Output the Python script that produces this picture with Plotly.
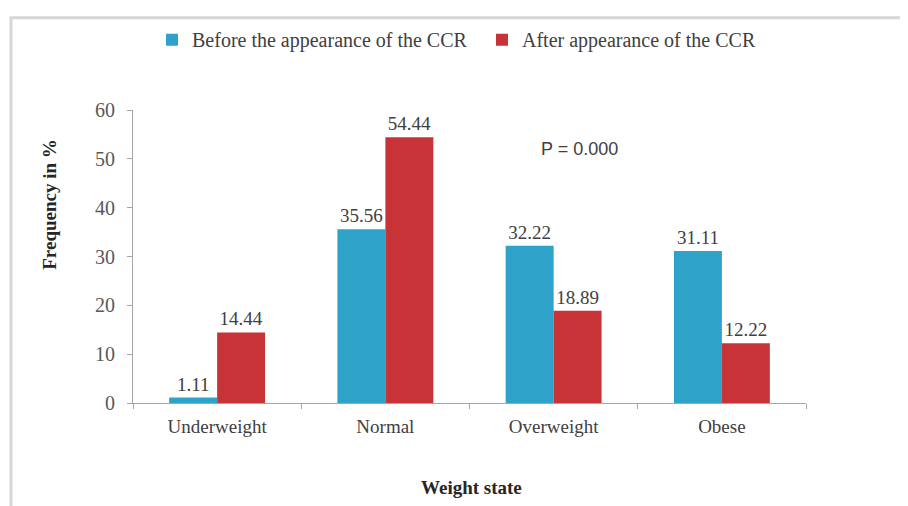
import plotly.graph_objects as go

categories = ["Underweight", "Normal", "Overweight", "Obese"]
before_vals = [1.11, 35.56, 32.22, 31.11]
after_vals = [14.44, 54.44, 18.89, 12.22]
series_names = ["Before the appearance of the CCR", "After appearance of the CCR"]
y_ticks = [0, 10, 20, 30, 40, 50, 60]

# page has an 8px body margin; work in screen px and convert
OFF = 8
W, H = 908, 506
L, T = 133 - OFF, 103 - OFF
pw, ph = 673, 300
R = W - L - pw
B = H - T - ph

def px_x(x):
    return (x - OFF - L) / pw

def px_y(y):
    return (H - B - (y - OFF)) / ph

serif = "Liberation Serif, Times New Roman, serif"
lab_font = dict(family=serif, size=19, color="#404040")

fig = go.Figure()
fig.add_trace(go.Bar(
    x=categories, y=before_vals, name=series_names[0],
    marker=dict(color="#2EA2C8", line=dict(width=0)),
    text=[f"{v:.2f}" for v in before_vals], textposition="outside",
    textfont=lab_font, cliponaxis=False, legend="legend",
))
fig.add_trace(go.Bar(
    x=categories, y=after_vals, name=series_names[1],
    marker=dict(color="#C83337", line=dict(width=0)),
    text=[f"{v:.2f}" for v in after_vals], textposition="outside",
    textfont=lab_font, cliponaxis=False, legend="legend2",
))

leg_common = dict(orientation="h", xanchor="left", yanchor="middle",
                  font=dict(family=serif, size=20, color="#404040"),
                  bgcolor="rgba(0,0,0,0)", itemwidth=30)
fig.update_layout(
    width=W, height=H,
    margin=dict(l=L, r=R, t=T, b=B),
    paper_bgcolor="white", plot_bgcolor="white",
    barmode="group", bargap=0.43, bargroupgap=0,
    font=dict(family=serif, size=19, color="#404040"),
    legend=dict(x=px_x(152), y=px_y(31), **leg_common),
    legend2=dict(x=px_x(482), y=px_y(31), **leg_common),
    showlegend=True,
)
fig.update_xaxes(
    showline=True, linecolor="#A6A6A6", linewidth=1,
    ticks="outside", tickson="boundaries", ticklen=5, tickcolor="#A6A6A6",
    tickfont=dict(family=serif, size=19, color="#404040"),
    ticklabelstandoff=6,
    showgrid=False,
)
fig.update_yaxes(
    range=[0, 60], tickvals=y_ticks,
    showline=True, linecolor="#A6A6A6", linewidth=1,
    ticks="outside", ticklen=5, tickcolor="#A6A6A6",
    tickfont=dict(family=serif, size=20, color="#595959"),
    ticklabelstandoff=8,
    showgrid=False, zeroline=False,
)

fig.add_annotation(text="<b>Frequency in %</b>", x=px_x(50), y=px_y(200),
                   xref="paper", yref="paper", showarrow=False, textangle=-90,
                   xanchor="center", yanchor="middle",
                   font=dict(family=serif, size=19, color="#262626"))
fig.add_annotation(text="<b>Weight state</b>", x=px_x(471), y=px_y(490),
                   xref="paper", yref="paper", showarrow=False,
                   xanchor="center", yanchor="middle",
                   font=dict(family=serif, size=19, color="#262626"))
fig.add_annotation(text="P = 0.000", x=px_x(579), y=px_y(143),
                   xref="paper", yref="paper", showarrow=False,
                   xanchor="center", yanchor="middle",
                   font=dict(family="Liberation Sans, Arial, sans-serif", size=18, color="#404040"))

fig.add_shape(type="rect", xref="paper", yref="paper",
              x0=px_x(11), x1=px_x(930), y0=px_y(540), y1=px_y(8.5),
              line=dict(color="#D6D6D6", width=3), layer="below")

fig.write_html("out.html")
